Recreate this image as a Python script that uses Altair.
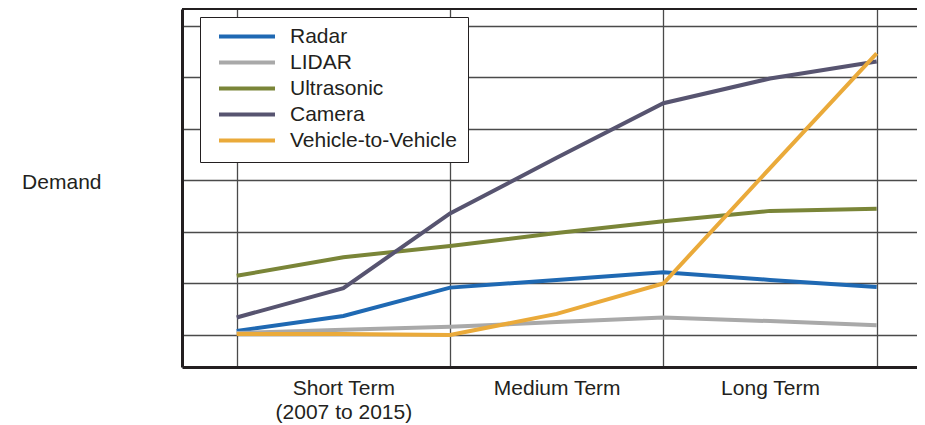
import altair as alt
import pandas as pd

# ---- data ----
stage_pos = [0, 1, 2, 3, 4, 5, 6]
series_names = ["Radar", "LIDAR", "Ultrasonic", "Camera", "Vehicle-to-Vehicle"]
radar = [1.08, 1.37, 1.92, 2.07, 2.22, 2.07, 1.93]
lidar = [1.04, 1.10, 1.16, 1.25, 1.34, 1.27, 1.19]
ultrasonic = [2.15, 2.51, 2.73, 2.98, 3.21, 3.41, 3.45]
camera = [1.34, 1.91, 3.36, 4.44, 5.50, 5.98, 6.31]
v2v = [1.02, 1.02, 1.00, 1.41, 2.00, 4.24, 6.47]
series_colors = ["#1f69b3", "#a9a9a9", "#7a8538", "#575470", "#eaaa3a"]

category_pos = [1, 3, 5]
category_labels = [["Short Term", "(2007 to 2015)"], ["Medium Term"], ["Long Term"]]
grid_x = [0, 2, 4, 6]
grid_y = [1, 2, 3, 4, 5, 6, 7]

rows = []
for name, vals in zip(series_names, [radar, lidar, ultrasonic, camera, v2v]):
    for x, v in zip(stage_pos, vals):
        rows.append({"series": name, "stage": x, "demand": v})
df = pd.DataFrame(rows)

# label expression built from category lists
expr = "''"
for pos, lab in reversed(list(zip(category_pos, category_labels))):
    arr = "[" + ",".join("'" + s + "'" for s in lab) + "]"
    expr = f"datum.value == {pos} ? {arr} : ({expr})"

TEXT = "#231f20"
GRID = "#4a4a4a"
FONT = "Liberation Sans"
FS = 21

W, H = 735, 358

lines = alt.Chart(df).mark_line(strokeWidth=4).encode(
    x=alt.X("stage:Q",
            scale=alt.Scale(domain=[-0.513, 6.378], nice=False, zero=False),
            axis=alt.Axis(values=sorted(grid_x + category_pos), title=None,
                          grid=True, gridColor=GRID, gridWidth=1.3,
                          gridOpacity={"condition": {"test": "datum.value % 2 == 1", "value": 0}, "value": 1},
                          ticks=False, tickSize=0,
                          domain=True, domainColor=TEXT, domainWidth=3,
                          labelExpr=expr, labelFont=FONT, labelFontSize=FS,
                          labelColor=TEXT, labelPadding=10, labelLineHeight=24,
                          labelBaseline="top", labelAlign="center",
                          labelOverlap=False, labelFlush=False)),
    y=alt.Y("demand:Q",
            scale=alt.Scale(domain=[0.3786, 7.330], nice=False, zero=False),
            axis=alt.Axis(values=grid_y, title="Demand", titleAngle=0,
                          titleX=-81, titleY=173, titleAlign="right",
                          titleBaseline="middle", titleFont=FONT,
                          titleFontSize=FS, titleFontWeight="normal",
                          titleColor=TEXT,
                          grid=True, gridColor=GRID, gridWidth=1.3,
                          ticks=False, labels=False,
                          domain=True, domainColor=TEXT, domainWidth=3)),
    color=alt.Color("series:N",
                    scale=alt.Scale(domain=series_names, range=series_colors),
                    legend=alt.Legend(title=None, orient="none",
                                      legendX=18, legendY=8,
                                      symbolType="stroke", symbolSize=3136,
                                      symbolStrokeWidth=4, symbolOffset=6,
                                      clipHeight=17, rowPadding=4,
                                      padding=11, labelOffset=13,
                                      labelFont=FONT, labelFontSize=FS,
                                      labelColor=TEXT, labelLimit=400,
                                      strokeColor=TEXT, fillColor="white")),
    order=alt.Order("stage:Q"),
)

top_border = alt.Chart(pd.DataFrame({"a": [0]})).mark_rule(
    color=TEXT, strokeWidth=2
).encode(x=alt.value(0), x2=alt.value(W), y=alt.value(0))

chart = alt.layer(lines, top_border).properties(
    width=W, height=H,
    autosize=alt.AutoSizeParams(type="none"),
    padding={"left": 174, "top": 1, "right": 0, "bottom": 58},
).configure_view(stroke=None).configure(background="white")

chart.save("out.html", embed_options={"renderer": "svg", "actions": False})
